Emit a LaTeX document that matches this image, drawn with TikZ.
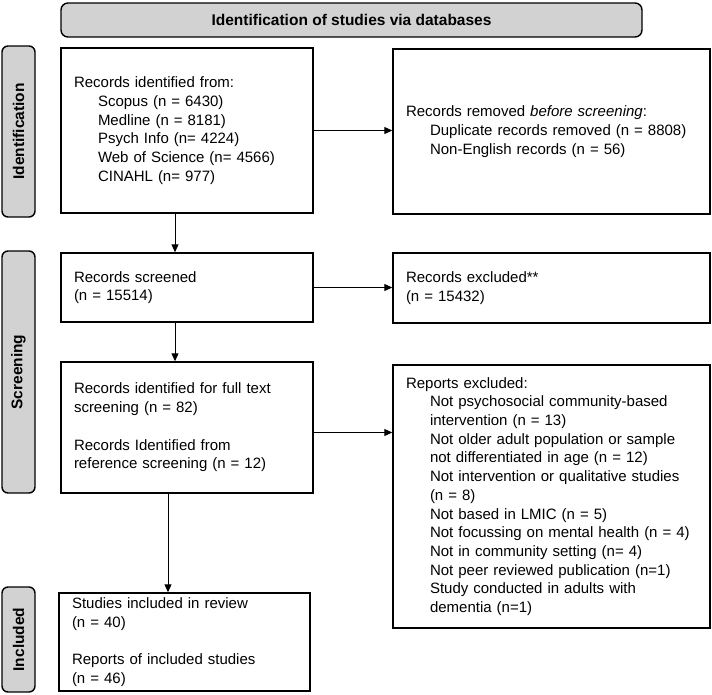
\documentclass[tikz,border=0pt]{standalone}
\usepackage{fontspec}
\setmainfont{Liberation Sans}
\usepackage{tikz}
\usetikzlibrary{arrows.meta,positioning}
\newcommand{\ind}{\hspace*{24pt}}

\begin{document}
\begin{tikzpicture}[x=1pt, y=-1pt,
  box/.style={rectangle, draw=black, line width=1.4pt, fill=white,
    inner xsep=13pt, inner ysep=0pt, align=left,
    font=\fontsize{15}{18.7}\selectfont},
  stage/.style={rectangle, rounded corners=6pt, draw=black, line width=1.4pt,
    fill=gray!35, rotate=90, minimum height=33pt, inner sep=0pt,
    font=\fontsize{15.5}{17}\selectfont\bfseries},
  head/.style={rectangle, rounded corners=7pt, draw=black, line width=1.4pt,
    fill=gray!35, minimum width=581pt, minimum height=34pt,
    font=\fontsize{15.5}{17}\selectfont\bfseries},
  arr/.style={-{Triangle[length=8pt,width=7pt]}, line width=1pt}
]
\useasboundingbox (0,0) rectangle (712,694);
% Top banner
\node[head] (head) at (351.5,20) {Identification of studies via databases};
% Stage labels
\node[stage, minimum width=171pt] (idlab) at (18.5,131.5) {Identification};
\node[stage, minimum width=242pt] (scrlab) at (18.5,372) {Screening};
\node[stage, minimum width=105pt] (inclab) at (18.5,639.5) {Included};
% Left column
\node[box, text width=226pt, minimum height=165pt] (ident) at (187,130.5) {
  Records identified from:\\
  \ind Scopus (n = 6430)\\
  \ind Medline (n = 8181)\\
  \ind Psych Info (n= 4224)\\
  \ind Web of Science (n= 4566)\\
  \ind CINAHL (n= 977)
};
\node[box, text width=226pt, minimum height=69pt] (screened) at (187,287.5) {
  Records screened\\
  (n = 15514)
};
\node[box, text width=226pt, minimum height=131pt] (fulltext) at (187,427.5) {
  Records identified for full text\\
  screening (n = 82)\\[18.7pt]
  Records Identified from\\
  reference screening (n = 12)
};
\node[box, text width=225pt, minimum height=98pt] (included) at (184.5,642) {
  Studies included in review\\
  (n = 40)\\[18.7pt]
  Reports of included studies\\
  (n = 46)
};
% Right column
\node[box, text width=291pt, minimum height=165pt] (removed) at (551.5,131.5) {
  Records removed \textit{before screening}:\\
  \ind Duplicate records removed (n = 8808)\\
  \ind Non-English records (n = 56)
};
\node[box, text width=291pt, minimum height=70pt] (excluded) at (551.5,288) {
  Records excluded**\\
  (n = 15432)
};
\node[box, text width=291pt, minimum height=263pt] (reports) at (551.5,496.5) {
  Reports excluded:\\
  \ind Not psychosocial community-based\\
  \ind intervention (n = 13)\\
  \ind Not older adult population or sample\\
  \ind not differentiated in age (n = 12)\\
  \ind Not intervention or qualitative studies\\
  \ind (n = 8)\\
  \ind Not based in LMIC (n = 5)\\
  \ind Not focussing on mental health (n = 4)\\
  \ind Not in community setting (n= 4)\\
  \ind Not peer reviewed publication (n=1)\\
  \ind Study conducted in adults with\\
  \ind dementia (n=1)
};
% Connectors
\draw[arr] ([xshift=-12pt]ident.south) -- ([xshift=-12pt]screened.north);
\draw[arr] (ident.east) -- (ident.east -| removed.west);
\draw[arr] (screened.east) -- (screened.east -| excluded.west);
\draw[arr] ([xshift=-12pt]screened.south) -- ([xshift=-12pt]fulltext.north);
\draw[arr] ([yshift=-5pt]fulltext.east) -- ([yshift=-5pt]fulltext.east -| reports.west);
\draw[arr] ([xshift=-19pt]fulltext.south) -- ([xshift=-19pt]fulltext.south |- included.north);
\end{tikzpicture}
\end{document}
